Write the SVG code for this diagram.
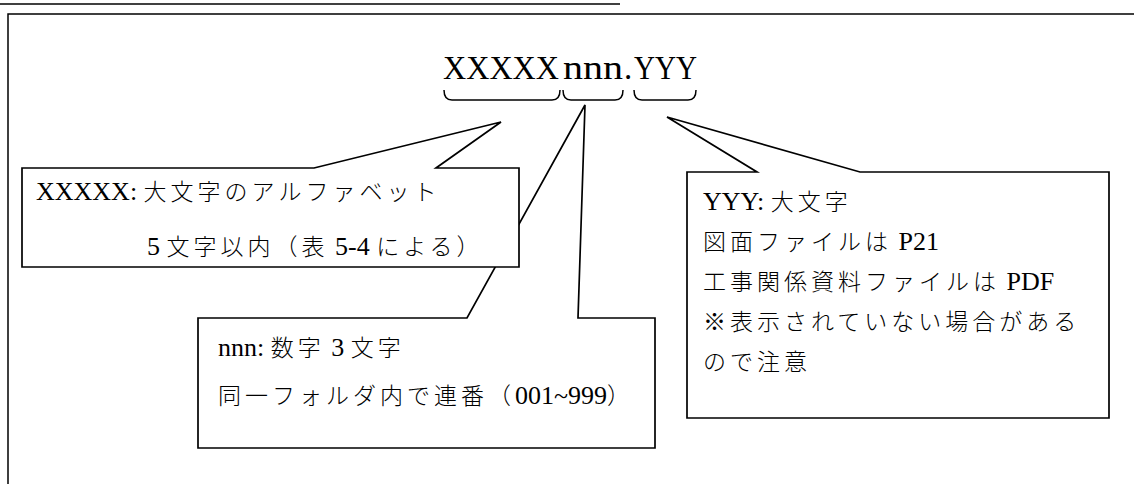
<svg xmlns="http://www.w3.org/2000/svg" width="1134" height="484" viewBox="0 0 1134 484">
<style>
.ln{fill:none;stroke:#000;stroke-width:1.5}
.box{fill:#fff;stroke:#000;stroke-width:1.7;stroke-linejoin:miter}
.t{font-family:"Liberation Serif","Noto Sans CJK JP",serif;font-size:23px;font-weight:300;fill:#000;letter-spacing:4px}
.t .l{letter-spacing:0;font-size:26px;font-weight:400}
.title{font-family:"Liberation Serif",serif;font-size:33px;fill:#000}
</style>
<rect width="1134" height="484" fill="#fff"/>
<line class="ln" x1="0" y1="4" x2="620" y2="4" stroke-width="2"/>
<path class="ln" d="M8,484 V14 H1134" stroke-width="2"/>
<g id="title">
<text class="title" y="79"><tspan x="443" textLength="116" lengthAdjust="spacingAndGlyphs">XXXXX</tspan><tspan x="563" textLength="60" lengthAdjust="spacingAndGlyphs">nnn</tspan><tspan x="624">.</tspan><tspan x="634" textLength="63" lengthAdjust="spacingAndGlyphs">YYY</tspan></text>
</g>
<g id="braces">
<path class="ln" d="M444,90 Q444,100 452,100 H552 Q560,100 560,90"/>
<path class="ln" d="M563,90 Q563,100 571,100 H615 Q623,100 623,90"/>
<path class="ln" d="M634,90 Q634,100 642,100 H688 Q696,100 696,90"/>
</g>
<g id="connectors">
</g>
<g id="nnn">
<path class="box" d="M198,318 H467 L585,105 L578,318 H655 V448 H198 Z"/>
<text class="t" x="218" y="356"><tspan class="l">nnn: </tspan>数字<tspan class="l"> 3 </tspan>文字</text>
<text class="t" x="218" y="404">同一フォルダ内で連番（<tspan class="l">001~999</tspan>）</text>
</g>
<g id="xxxxx">
<path class="box" d="M22,168 H314 L501,122 L436,168 H519 V267 H22 Z"/>
<text class="t" x="36" y="200"><tspan class="l">XXXXX: </tspan>大文字のアルファベット</text>
<text class="t" x="147" y="255"><tspan class="l">5 </tspan>文字以内（表<tspan class="l"> 5-4 </tspan>による）</text>
</g>
<g id="yyy">
<path class="box" d="M687,172 H757 L667,117 L860,172 H1109 V418 H687 Z"/>
<text class="t" x="703" y="210"><tspan class="l">YYY: </tspan>大文字</text>
<text class="t" x="703" y="250">図面ファイルは<tspan class="l"> P21</tspan></text>
<text class="t" x="703" y="290">工事関係資料ファイルは<tspan class="l"> PDF</tspan></text>
<text class="t" x="703" y="330">※表示されていない場合がある</text>
<text class="t" x="703" y="370">ので注意</text>
</g>
</svg>
